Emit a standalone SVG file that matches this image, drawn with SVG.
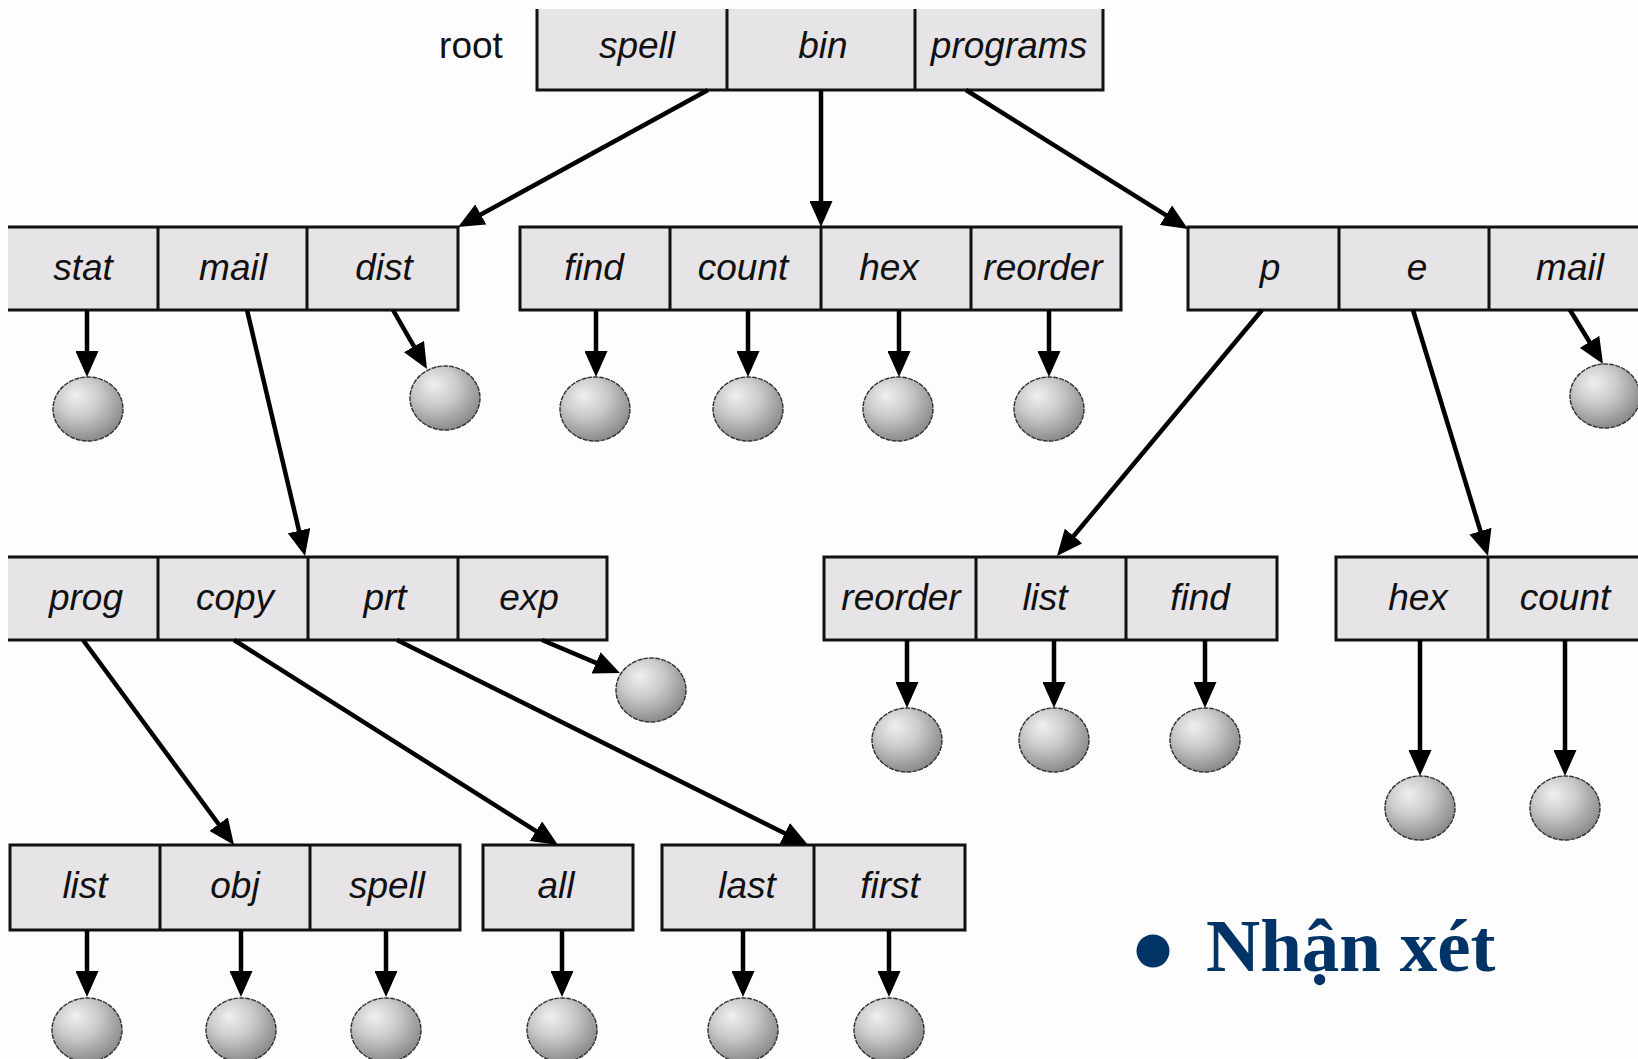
<svg xmlns="http://www.w3.org/2000/svg" width="1638" height="1059" viewBox="0 0 1638 1059">
<style>
.cell{fill:#e7e4e7;stroke:none;}
.box{fill:none;stroke:#111;stroke-width:3;}
.lbl{font-family:"Liberation Sans",Arial,sans-serif;font-size:37px;font-style:italic;fill:#111;text-anchor:middle;}
.con{stroke:#000;stroke-width:4.5;fill:none;marker-end:url(#ah);}
.leaf{fill:url(#sph);stroke:#333;stroke-width:1.4;stroke-dasharray:5 1;}
</style>
<defs>
<marker id="ah" markerUnits="userSpaceOnUse" viewBox="0 0 26 23" refX="16" refY="11.5" markerWidth="26" markerHeight="23" orient="auto">
<path d="M0,0 L26,11.5 L0,23 Z" fill="#000"/>
</marker>
<radialGradient id="sph" cx="0.4" cy="0.35" r="0.68" fx="0.33" fy="0.28">
<stop offset="0" stop-color="#f0f0f0"/>
<stop offset="0.45" stop-color="#cbcbcb"/>
<stop offset="1" stop-color="#878787"/>
</radialGradient>
</defs>
<rect x="0" y="0" width="1638" height="1059" fill="#fdfdfd"/>

<g id="root">
<rect class="cell" x="537" y="9" width="566" height="81"/>
<path class="box" d="M537,9 V90 H1103 V9 M727,9 V90 M915,9 V90"/>
<text x="471" y="58" style="font-family:'Liberation Sans',Arial,sans-serif;font-size:37px;fill:#111;text-anchor:middle">root</text>
<text class="lbl" x="637" y="58">spell</text>
<text class="lbl" x="823" y="58">bin</text>
<text class="lbl" x="1009" y="58">programs</text>
</g>

<g id="node-spell">
<rect class="cell" x="8" y="227" width="450" height="83"/>
<path class="box" d="M8,227 H458 V310 H8 M158,227 V310 M307,227 V310"/>
<text class="lbl" x="83" y="280">stat</text>
<text class="lbl" x="233" y="280">mail</text>
<text class="lbl" x="384" y="280">dist</text>
</g>

<g id="node-bin">
<rect class="cell" x="520" y="227" width="601" height="83"/>
<path class="box" d="M520,227 H1121 V310 H520 Z M670,227 V310 M821,227 V310 M971,227 V310"/>
<text class="lbl" x="594" y="280">find</text>
<text class="lbl" x="743" y="280">count</text>
<text class="lbl" x="889" y="280">hex</text>
<text class="lbl" x="1043" y="280">reorder</text>
</g>

<g id="node-programs">
<rect class="cell" x="1188" y="227" width="470" height="83"/>
<path class="box" d="M1660,227 H1188 V310 H1660 M1339,227 V310 M1489,227 V310"/>
<text class="lbl" x="1270" y="280">p</text>
<text class="lbl" x="1417" y="280">e</text>
<text class="lbl" x="1570" y="280">mail</text>
</g>

<g id="node-mail">
<rect class="cell" x="8" y="557" width="599" height="83"/>
<path class="box" d="M8,557 H607 V640 H8 M158,557 V640 M308,557 V640 M458,557 V640"/>
<text class="lbl" x="86" y="610">prog</text>
<text class="lbl" x="235" y="610">copy</text>
<text class="lbl" x="385" y="610">prt</text>
<text class="lbl" x="529" y="610">exp</text>
</g>

<g id="node-p">
<rect class="cell" x="824" y="557" width="453" height="83"/>
<path class="box" d="M824,557 H1277 V640 H824 Z M976,557 V640 M1126,557 V640"/>
<text class="lbl" x="901" y="610">reorder</text>
<text class="lbl" x="1045" y="610">list</text>
<text class="lbl" x="1200" y="610">find</text>
</g>

<g id="node-e">
<rect class="cell" x="1336" y="557" width="320" height="83"/>
<path class="box" d="M1660,557 H1336 V640 H1660 M1488,557 V640"/>
<text class="lbl" x="1418" y="610">hex</text>
<text class="lbl" x="1565" y="610">count</text>
</g>

<g id="node-prog">
<rect class="cell" x="10" y="845" width="450" height="85"/>
<path class="box" d="M10,845 H460 V930 H10 Z M160,845 V930 M310,845 V930"/>
<text class="lbl" x="85" y="898">list</text>
<text class="lbl" x="235" y="898">obj</text>
<text class="lbl" x="387" y="898">spell</text>
</g>

<g id="node-copy">
<rect class="cell" x="483" y="845" width="150" height="85"/>
<path class="box" d="M483,845 H633 V930 H483 Z"/>
<text class="lbl" x="556" y="898">all</text>
</g>

<g id="node-prt">
<rect class="cell" x="662" y="845" width="303" height="85"/>
<path class="box" d="M662,845 H965 V930 H662 Z M814,845 V930"/>
<text class="lbl" x="747" y="898">last</text>
<text class="lbl" x="890" y="898">first</text>
</g>

<g id="leaves">
<ellipse class="leaf" cx="88" cy="409" rx="35" ry="32"/>
<ellipse class="leaf" cx="445" cy="398" rx="35" ry="32"/>
<ellipse class="leaf" cx="595" cy="409" rx="35" ry="32"/>
<ellipse class="leaf" cx="748" cy="409" rx="35" ry="32"/>
<ellipse class="leaf" cx="898" cy="409" rx="35" ry="32"/>
<ellipse class="leaf" cx="1049" cy="409" rx="35" ry="32"/>
<ellipse class="leaf" cx="1605" cy="396" rx="35" ry="32"/>
<ellipse class="leaf" cx="651" cy="690" rx="35" ry="32"/>
<ellipse class="leaf" cx="907" cy="740" rx="35" ry="32"/>
<ellipse class="leaf" cx="1054" cy="740" rx="35" ry="32"/>
<ellipse class="leaf" cx="1205" cy="740" rx="35" ry="32"/>
<ellipse class="leaf" cx="1420" cy="808" rx="35" ry="32"/>
<ellipse class="leaf" cx="1565" cy="808" rx="35" ry="32"/>
<ellipse class="leaf" cx="87" cy="1030" rx="35" ry="32"/>
<ellipse class="leaf" cx="241" cy="1030" rx="35" ry="32"/>
<ellipse class="leaf" cx="386" cy="1030" rx="35" ry="32"/>
<ellipse class="leaf" cx="562" cy="1030" rx="35" ry="32"/>
<ellipse class="leaf" cx="743" cy="1030" rx="35" ry="32"/>
<ellipse class="leaf" cx="889" cy="1030" rx="35" ry="32"/>
</g>

<g id="connectors">
<line class="con" x1="708" y1="90" x2="466.8" y2="222.2"/>
<line class="con" x1="821" y1="90" x2="821" y2="217"/>
<line class="con" x1="966" y1="90" x2="1179.5" y2="223.7"/>
<line class="con" x1="87" y1="310" x2="87" y2="367"/>
<line class="con" x1="393" y1="310" x2="422" y2="360.3"/>
<line class="con" x1="596" y1="310" x2="596" y2="367"/>
<line class="con" x1="748" y1="310" x2="748" y2="367"/>
<line class="con" x1="899" y1="310" x2="899" y2="367"/>
<line class="con" x1="1049" y1="310" x2="1049" y2="367"/>
<line class="con" x1="1570" y1="310" x2="1597.8" y2="355.5"/>
<line class="con" x1="247" y1="310" x2="302.7" y2="546.3"/>
<line class="con" x1="1262" y1="310" x2="1063.4" y2="548.3"/>
<line class="con" x1="1413" y1="310" x2="1485.1" y2="546.4"/>
<line class="con" x1="542" y1="640" x2="610.8" y2="669.1"/>
<line class="con" x1="907" y1="640" x2="907" y2="698"/>
<line class="con" x1="1054" y1="640" x2="1054" y2="698"/>
<line class="con" x1="1205" y1="640" x2="1205" y2="698"/>
<line class="con" x1="1420" y1="640" x2="1420" y2="766"/>
<line class="con" x1="1565" y1="640" x2="1565" y2="766"/>
<line class="con" x1="83" y1="640" x2="228.1" y2="837"/>
<line class="con" x1="234" y1="640" x2="549.5" y2="839.7"/>
<line class="con" x1="397" y1="640" x2="799.1" y2="840.5"/>
<line class="con" x1="87" y1="930" x2="87" y2="987"/>
<line class="con" x1="241" y1="930" x2="241" y2="987"/>
<line class="con" x1="386" y1="930" x2="386" y2="987"/>
<line class="con" x1="562" y1="930" x2="562" y2="987"/>
<line class="con" x1="743" y1="930" x2="743" y2="987"/>
<line class="con" x1="889" y1="930" x2="889" y2="987"/>
</g>

<g id="note">
<circle cx="1153" cy="951" r="16.5" fill="#003366"/>
<text x="1206" y="971" style="font-family:'Liberation Serif','Times New Roman',serif;font-size:75px;font-weight:bold;fill:#003366">Nhận xét</text>
</g>
</svg>
